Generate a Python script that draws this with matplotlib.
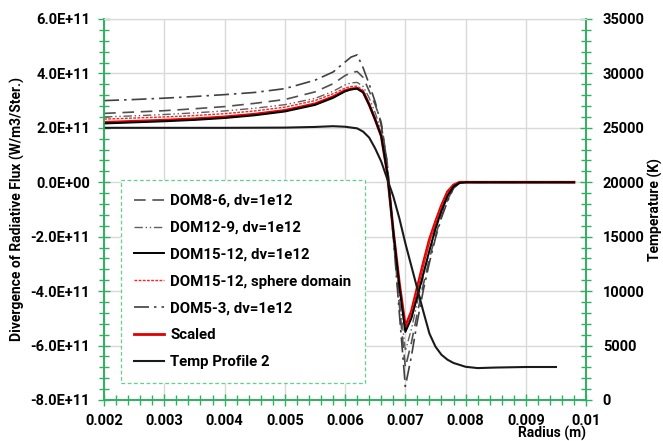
import numpy as np
import matplotlib
matplotlib.use("Agg")
import matplotlib.pyplot as plt
from matplotlib.ticker import MultipleLocator, FuncFormatter

# radius grid (m) shared by the divergence curves
radius = [0.002, 0.0025, 0.003, 0.0035, 0.004, 0.0045, 0.005, 0.0055, 0.0058, 0.006,
          0.0061, 0.0062, 0.0063, 0.0064, 0.0065, 0.0066, 0.0067, 0.0068, 0.0069, 0.007,
          0.0071, 0.0072, 0.0073, 0.0074, 0.0075, 0.0076, 0.0077, 0.0078, 0.0079, 0.008,
          0.0085, 0.009, 0.0095, 0.0098]

# divergence of radiative flux, in units of 1e11 W/m3/Ster.
dom8_6 = [2.53, 2.58, 2.63, 2.70, 2.78, 2.90, 3.04, 3.32, 3.62, 3.92,
          4.03, 4.07, 3.85, 3.35, 2.85, 2.2, 0.7, -2.0, -4.5, -6.8,
          -5.9, -4.8, -3.75, -2.8, -1.95, -1.25, -0.65, -0.2, -0.03, 0,
          0, 0, 0, 0]
dom12_9 = [2.40, 2.44, 2.49, 2.55, 2.62, 2.72, 2.85, 3.08, 3.34, 3.58,
           3.65, 3.67, 3.52, 3.1, 2.55, 1.9, 0.5, -1.9, -4.2, -6.2,
           -5.4, -4.4, -3.45, -2.55, -1.75, -1.1, -0.55, -0.15, -0.02, 0,
           0, 0, 0, 0]
dom15_12 = [2.16, 2.20, 2.24, 2.29, 2.36, 2.46, 2.60, 2.84, 3.10, 3.34,
            3.41, 3.44, 3.30, 2.85, 2.3, 1.7, 0.35, -1.8, -3.8, -5.5,
            -5.0, -4.2, -3.35, -2.5, -1.7, -1.05, -0.5, -0.15, -0.02, 0,
            0, 0, 0, 0]
sphere = [2.32, 2.36, 2.40, 2.45, 2.52, 2.62, 2.76, 3.00, 3.25, 3.46,
          3.52, 3.53, 3.38, 2.9, 2.35, 1.7, 0.3, -1.85, -3.8, -5.4,
          -4.85, -3.95, -3.05, -2.2, -1.5, -0.9, -0.4, -0.1, 0, 0,
          0, 0, 0, 0]
dom5_3 = [3.00, 3.04, 3.09, 3.15, 3.22, 3.30, 3.44, 3.75, 4.05, 4.42,
          4.60, 4.68, 4.20, 3.6, 2.95, 2.1, 0.7, -2.0, -4.8, -7.5,
          -6.4, -5.1, -3.95, -2.95, -2.05, -1.3, -0.7, -0.22, -0.03, 0,
          0, 0, 0, 0]
scaled = [2.20, 2.24, 2.28, 2.33, 2.40, 2.50, 2.64, 2.88, 3.14, 3.37,
          3.43, 3.45, 3.32, 2.85, 2.3, 1.7, 0.35, -1.8, -3.7, -5.3,
          -4.75, -3.85, -2.95, -2.1, -1.45, -0.85, -0.35, -0.1, 0, 0,
          0, 0, 0, 0]

# temperature profile (K)
radius_temp = [0.002, 0.003, 0.004, 0.005, 0.0055, 0.0058, 0.006, 0.0062, 0.0063, 0.0064,
               0.0065, 0.0066, 0.0067, 0.0068, 0.0069, 0.007, 0.0071, 0.0072, 0.0073, 0.0074,
               0.0075, 0.0076, 0.0077, 0.0078, 0.008, 0.0082, 0.0085, 0.009, 0.0095]
temp = [25000, 25000, 25000, 25020, 25080, 25150, 25100, 24950, 24650, 24100,
        23100, 21900, 20300, 18700, 16700, 14400, 12300, 10200, 8100, 6100,
        4900, 4150, 3700, 3400, 3050, 2930, 2980, 3030, 3030]

plt.rcParams['font.family'] = ['Roboto', 'DejaVu Sans']
plt.rcParams['font.weight'] = 'bold'

green = '#2fb060'
grid_c = '#d9d9d9'

fig = plt.figure(figsize=(6.63, 4.41), dpi=100)
ax = fig.add_axes([0.157, 0.093, 0.727, 0.864])
ax2 = ax.twinx()

r = np.array(radius)
s = 1e11
l1, = ax.plot(r, np.array(dom8_6) * s, color='#505050', lw=1.2, ls=(0, (7, 4)), zorder=3)
l2, = ax.plot(r, np.array(dom12_9) * s, color='#606060', lw=1.0, ls=(0, (6, 2, 1, 2, 1, 2)), zorder=3)
l6, = ax.plot(r, np.array(scaled) * s, color='#e00000', lw=2.0, zorder=2)
l3, = ax.plot(r, np.array(dom15_12) * s, color='black', lw=1.4, zorder=4)
l4, = ax.plot(r, np.array(sphere) * s, color='#ff2020', lw=1.0, ls=(0, (2, 1)), zorder=3)
l5, = ax.plot(r, np.array(dom5_3) * s, color='#404040', lw=1.2, ls=(0, (9, 3, 1.5, 3)), zorder=3)
l7, = ax2.plot(radius_temp, temp, color='#1a1a1a', lw=1.5)

ax.set_xlim(0.002, 0.01)
ax.set_ylim(-8e11, 6e11)
ax2.set_ylim(0, 35000)

ax.xaxis.set_major_locator(MultipleLocator(0.001))
ax.xaxis.set_minor_locator(MultipleLocator(0.0002))
ax.yaxis.set_major_locator(MultipleLocator(2e11))
ax.yaxis.set_minor_locator(MultipleLocator(0.4e11))
ax2.yaxis.set_major_locator(MultipleLocator(5000))
ax2.yaxis.set_minor_locator(MultipleLocator(1000))

ax.xaxis.set_major_formatter(FuncFormatter(lambda v, p: '%g' % round(v, 4)))
ax.yaxis.set_major_formatter(FuncFormatter(lambda v, p: '%.1E' % v))

ax.grid(True, which='major', color=grid_c, lw=1.0, zorder=0)
ax.set_axisbelow(True)

for a in (ax, ax2):
    a.tick_params(which='major', direction='inout', length=8, width=1.0, color=green,
                  labelsize=10.5)
    a.tick_params(which='minor', direction='inout', length=7, width=1.0, color=green)
    for side in ('left', 'right', 'bottom'):
        a.spines[side].set_color(green)
        a.spines[side].set_linewidth(1.2)
    a.spines['top'].set_color(grid_c)
ax.tick_params(axis='y', pad=6)
ax2.tick_params(axis='y', pad=8)
ax.tick_params(axis='x', pad=6)

ax.set_ylabel('Divergence of Radiative Flux (W/m3/Ster.)', fontsize=10, fontweight='bold', labelpad=4)
ax2.set_ylabel('Temperature (K)', fontsize=10, fontweight='bold')
ax2.yaxis.set_label_coords(1.128, 0.5)
ax.set_xlabel('Radius (m)', fontsize=10, fontweight='bold', labelpad=2)
ax.xaxis.set_label_coords(0.93, -0.068)

handles = [l1, l2, l3, l4, l5, l6, l7]
labels = ['DOM8-6, dv=1e12', 'DOM12-9, dv=1e12', 'DOM15-12, dv=1e12',
          'DOM15-12, sphere domain', 'DOM5-3, dv=1e12', 'Scaled', 'Temp Profile 2']
leg = ax2.legend(handles, labels, loc='lower left', bbox_to_anchor=(0.035, 0.045),
                 fontsize=10.8, fancybox=False, framealpha=1, labelspacing=0.86,
                 handlelength=2.0, handletextpad=0.4, borderpad=0.9, borderaxespad=0)
leg.get_frame().set_edgecolor('#5fd38a')
leg.get_frame().set_linestyle((0, (3, 2)))
leg.get_frame().set_linewidth(0.9)

fig.savefig('out.png', dpi=100)
